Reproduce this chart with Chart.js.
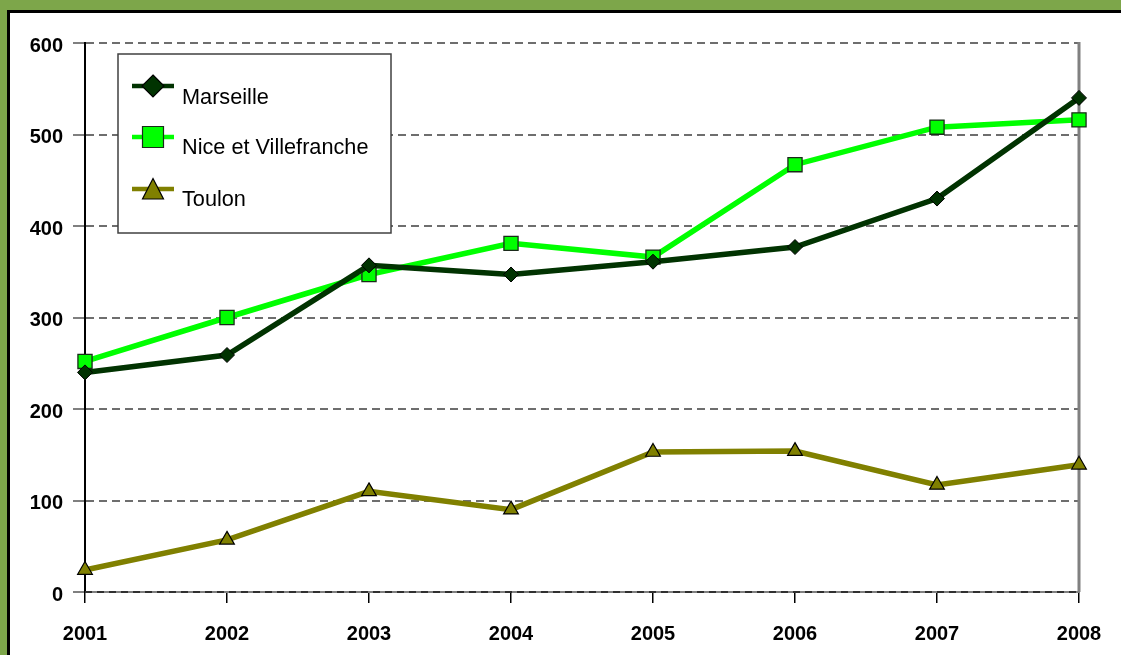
<!DOCTYPE html>
<html>
<head>
<meta charset="utf-8">
<script src="https://cdn.jsdelivr.net/npm/chart.js@4"></script>
<style>
html,body{margin:0;padding:0;overflow:hidden;background:#7DA64A;}
canvas{display:block;}
</style>
</head>
<body>
<canvas id="c" width="1121" height="655"></canvas>
<script>
const years = ['2001','2002','2003','2004','2005','2006','2007','2008'];
const marseille = [240, 259, 357, 347, 361, 377, 430, 540];
const nice = [252, 300, 347, 381, 366, 467, 508, 516];
const toulon = [24, 57, 110, 90, 153, 154, 117, 139];
const yTicks = [0, 100, 200, 300, 400, 500, 600];

const FONT = '"Liberation Sans", Arial, sans-serif';

const framePlugin = {
  id: 'frame',
  beforeDraw(chart) {
    const ctx = chart.ctx;
    ctx.save();
    ctx.fillStyle = '#7DA64A';
    ctx.fillRect(0, 0, chart.width, chart.height);
    ctx.fillStyle = '#000';
    ctx.fillRect(7, 10, chart.width, chart.height);
    ctx.fillStyle = '#fff';
    ctx.fillRect(10, 13, chart.width, chart.height);
    ctx.restore();
  }
};

function drawMarker(ctx, kind, x, y, fill, stroke) {
  ctx.save();
  ctx.fillStyle = fill;
  ctx.strokeStyle = stroke;
  ctx.lineWidth = 1.2;
  ctx.beginPath();
  if (kind === 'diamond') {
    const r = 11;
    ctx.moveTo(x, y - r); ctx.lineTo(x + r, y); ctx.lineTo(x, y + r); ctx.lineTo(x - r, y); ctx.closePath();
  } else if (kind === 'square') {
    const h = 10.5;
    ctx.rect(x - h, y - h, 2 * h, 2 * h);
  } else {
    const w = 10.5, top = 10.5, bot = 10;
    ctx.moveTo(x, y - top); ctx.lineTo(x + w, y + bot); ctx.lineTo(x - w, y + bot); ctx.closePath();
  }
  ctx.fill();
  ctx.stroke();
  ctx.restore();
}

const axesPlugin = {
  id: 'axesExtra',
  beforeDatasetsDraw(chart) {
    const ctx = chart.ctx;
    const a = chart.chartArea;
    ctx.save();
    // right border
    ctx.strokeStyle = '#808080';
    ctx.lineWidth = 3;
    ctx.beginPath();
    ctx.moveTo(a.right, a.top - 1);
    ctx.lineTo(a.right, a.bottom);
    ctx.stroke();
    // x axis line
    ctx.lineWidth = 2;
    ctx.strokeStyle = '#808080';
    ctx.beginPath();
    ctx.moveTo(a.left, a.bottom);
    ctx.lineTo(a.right, a.bottom);
    ctx.stroke();
    ctx.setLineDash([7, 5]);
    ctx.strokeStyle = '#303030';
    ctx.beginPath();
    ctx.moveTo(a.left, a.bottom);
    ctx.lineTo(a.right, a.bottom);
    ctx.stroke();
    ctx.setLineDash([]);

    // legend box
    const lx = 118, ly = 54, lw = 273, lh = 179;
    ctx.fillStyle = '#fff';
    ctx.fillRect(lx, ly, lw, lh);
    ctx.strokeStyle = '#404040';
    ctx.lineWidth = 1.5;
    ctx.strokeRect(lx, ly, lw, lh);
    const kinds = ['diamond', 'square', 'triangle'];
    const rows = [86, 137, 189];
    const textY = [104, 154, 206];
    chart.data.datasets.forEach((ds, i) => {
      ctx.strokeStyle = ds.borderColor;
      ctx.lineWidth = 4.5;
      ctx.beginPath();
      ctx.moveTo(132, rows[i]);
      ctx.lineTo(174, rows[i]);
      ctx.stroke();
      drawMarker(ctx, kinds[i], 153, rows[i], ds.pointBackgroundColor, ds.pointBorderColor);
      ctx.fillStyle = '#000';
      ctx.font = '21.7px ' + FONT;
      ctx.textBaseline = 'alphabetic';
      ctx.textAlign = 'left';
      ctx.fillText(ds.label, 182, textY[i]);
    });
    ctx.restore();
  }
};

new Chart(document.getElementById('c'), {
  type: 'line',
  data: {
    labels: years,
    datasets: [
      {
        label: 'Marseille',
        data: marseille,
        borderColor: '#013301',
        backgroundColor: '#013301',
        borderWidth: 5.5,
        pointStyle: 'rectRot',
        pointRadius: 7.5,
        pointBackgroundColor: '#013301',
        pointBorderColor: '#000',
        pointBorderWidth: 1,
        tension: 0
      },
      {
        label: 'Nice et Villefranche',
        data: nice,
        borderColor: '#00FF00',
        backgroundColor: '#00FF00',
        borderWidth: 5.5,
        pointStyle: 'rect',
        pointRadius: 10,
        pointBackgroundColor: '#00FF00',
        pointBorderColor: '#1a2a1a',
        pointBorderWidth: 1.3,
        tension: 0
      },
      {
        label: 'Toulon',
        data: toulon,
        borderColor: '#808000',
        backgroundColor: '#808000',
        borderWidth: 5.5,
        pointStyle: 'triangle',
        pointRadius: 8.5,
        pointBackgroundColor: '#808000',
        pointBorderColor: '#000',
        pointBorderWidth: 1.2,
        tension: 0
      }
    ]
  },
  options: {
    responsive: false,
    animation: false,
    layout: { padding: { left: 0, top: 43, right: 42, bottom: 0 } },
    plugins: {
      legend: { display: false },
      tooltip: { enabled: false },
      title: { display: false }
    },
    scales: {
      x: {
        offset: false,
        afterFit(s) { s.height = 63; },
        grid: {
          drawOnChartArea: false,
          drawTicks: true,
          tickLength: 11,
          color: '#000',
          lineWidth: 1.5
        },
        border: { display: false },
        ticks: {
          color: '#000',
          padding: 19,
          maxRotation: 0,
          autoSkip: false,
          font: { family: FONT, size: 20, weight: 'bold' }
        }
      },
      y: {
        min: 0,
        max: 600,
        afterFit(s) { s.width = 85; },
        afterBuildTicks(s) { s.ticks = yTicks.map(v => ({ value: v })); },
        grid: {
          color: c => (c.tick && c.tick.value === 0) ? 'rgba(0,0,0,0)' : '#6e6e6e',
          lineWidth: 2,
          tickLength: 12,
          tickBorderDash: [],
          tickColor: '#808080'
        },
        border: { display: true, color: '#000', width: 2, dash: [8, 5] },
        ticks: {
          color: '#000',
          padding: 10,
          labelOffset: 3,
          font: { family: FONT, size: 20, weight: 'bold' }
        }
      }
    }
  },
  plugins: [framePlugin, axesPlugin]
});
</script>
</body>
</html>
